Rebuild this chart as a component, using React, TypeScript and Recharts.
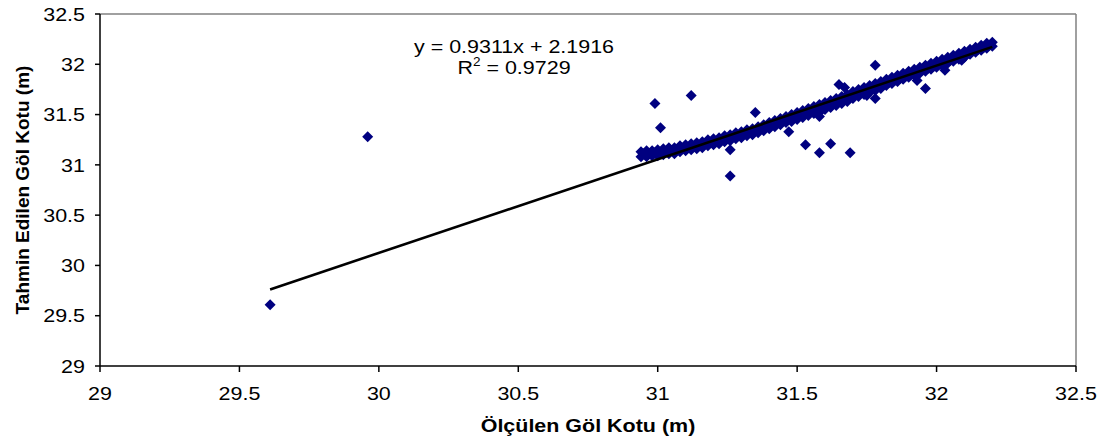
import React from "react";
import { ScatterChart, Scatter, XAxis, YAxis, ReferenceLine } from "recharts";

// measured vs predicted lake level (m)
const AXIS_TICKS = [29, 29.5, 30, 30.5, 31, 31.5, 32, 32.5];

// main band, upper edge of the cloud
const bandUpper: [number, number][] = [
  [30.94, 31.13], [30.96, 31.14], [30.98, 31.14], [31.0, 31.15], [31.02, 31.16],
  [31.04, 31.17], [31.06, 31.17], [31.08, 31.19], [31.1, 31.2], [31.12, 31.21],
  [31.14, 31.22], [31.16, 31.23], [31.18, 31.25], [31.2, 31.26], [31.22, 31.27],
  [31.24, 31.29], [31.26, 31.3], [31.28, 31.32], [31.3, 31.33], [31.32, 31.35],
  [31.34, 31.36], [31.36, 31.38], [31.38, 31.4], [31.4, 31.42], [31.42, 31.44],
  [31.44, 31.46], [31.46, 31.48], [31.48, 31.5], [31.5, 31.52], [31.52, 31.54],
  [31.54, 31.56], [31.56, 31.58], [31.58, 31.6], [31.6, 31.62], [31.62, 31.64],
  [31.64, 31.66], [31.66, 31.68], [31.68, 31.7], [31.7, 31.73], [31.72, 31.75],
  [31.74, 31.77], [31.76, 31.79], [31.78, 31.81], [31.8, 31.83], [31.82, 31.85],
  [31.84, 31.87], [31.86, 31.89], [31.88, 31.91], [31.9, 31.93], [31.92, 31.95],
  [31.94, 31.97], [31.96, 31.99], [31.98, 32.01], [32.0, 32.03], [32.02, 32.05],
  [32.04, 32.07], [32.06, 32.09], [32.08, 32.11], [32.1, 32.13], [32.12, 32.15],
  [32.14, 32.17], [32.16, 32.19], [32.18, 32.21], [32.2, 32.22],
];

// main band, middle of the cloud
const bandMiddle: [number, number][] = [
  [30.95, 31.11], [30.97, 31.11], [30.99, 31.12], [31.01, 31.12], [31.03, 31.13],
  [31.05, 31.14], [31.07, 31.15], [31.09, 31.16], [31.11, 31.17], [31.13, 31.18],
  [31.15, 31.19], [31.17, 31.21], [31.19, 31.22], [31.21, 31.23], [31.23, 31.25],
  [31.25, 31.26], [31.27, 31.28], [31.29, 31.29], [31.31, 31.31], [31.33, 31.32],
  [31.35, 31.34], [31.37, 31.36], [31.39, 31.38], [31.41, 31.4], [31.43, 31.42],
  [31.45, 31.44], [31.47, 31.46], [31.49, 31.47], [31.51, 31.49], [31.53, 31.51],
  [31.55, 31.53], [31.57, 31.55], [31.59, 31.57], [31.61, 31.59], [31.63, 31.61],
  [31.65, 31.63], [31.67, 31.65], [31.69, 31.67], [31.71, 31.7], [31.73, 31.72],
  [31.75, 31.74], [31.77, 31.76], [31.79, 31.78], [31.81, 31.8], [31.83, 31.82],
  [31.85, 31.84], [31.87, 31.86], [31.89, 31.88], [31.91, 31.9], [31.93, 31.92],
  [31.95, 31.94], [31.97, 31.96], [31.99, 31.98], [32.01, 32.0], [32.03, 32.02],
  [32.05, 32.04], [32.07, 32.06], [32.09, 32.08], [32.11, 32.1], [32.13, 32.13],
  [32.15, 32.15], [32.17, 32.17], [32.19, 32.19],
];

// main band, lower edge of the cloud
const bandLower: [number, number][] = [
  [30.94, 31.08], [30.96, 31.08], [30.98, 31.09], [31.0, 31.09], [31.02, 31.1],
  [31.04, 31.11], [31.06, 31.11], [31.08, 31.13], [31.1, 31.14], [31.12, 31.15],
  [31.14, 31.16], [31.16, 31.17], [31.18, 31.19], [31.2, 31.2], [31.22, 31.21],
  [31.24, 31.23], [31.26, 31.24], [31.28, 31.26], [31.3, 31.27], [31.32, 31.29],
  [31.34, 31.3], [31.36, 31.32], [31.38, 31.34], [31.4, 31.36], [31.42, 31.38],
  [31.44, 31.4], [31.46, 31.42], [31.48, 31.43], [31.5, 31.45], [31.52, 31.47],
  [31.54, 31.49], [31.56, 31.51], [31.58, 31.52], [31.6, 31.55], [31.62, 31.57],
  [31.64, 31.59], [31.66, 31.61], [31.68, 31.63], [31.7, 31.66], [31.72, 31.68],
  [31.74, 31.7], [31.76, 31.72], [31.78, 31.74], [31.8, 31.76], [31.82, 31.79],
  [31.84, 31.81], [31.86, 31.83], [31.88, 31.85], [31.9, 31.87], [31.92, 31.89],
  [31.94, 31.91], [31.96, 31.93], [31.98, 31.95], [32.0, 31.97], [32.02, 31.99],
  [32.04, 32.01], [32.06, 32.03], [32.08, 32.05], [32.1, 32.07], [32.12, 32.1],
  [32.14, 32.12], [32.16, 32.14], [32.18, 32.16], [32.2, 32.18],
];

// scattered points away from the band
const outliers: [number, number][] = [
  [29.61, 29.61], [29.96, 31.28], [30.99, 31.61], [31.12, 31.69], [31.01, 31.37],
  [31.35, 31.52], [31.26, 31.15], [31.26, 30.89], [31.47, 31.33], [31.53, 31.2],
  [31.58, 31.12], [31.62, 31.21], [31.69, 31.12], [31.58, 31.48], [31.65, 31.8],
  [31.67, 31.77], [31.75, 31.69], [31.78, 31.66], [31.78, 31.99], [31.93, 31.84],
  [31.96, 31.76], [32.03, 31.94], [32.09, 32.04],
];

// linear fit
const SLOPE = 0.9311;
const INTERCEPT = 2.1916;
const R2 = 0.9729;

const points = [...bandUpper, ...bandMiddle, ...bandLower, ...outliers].map(
  ([x, y]) => ({ x, y })
);
const xs = points.map((p) => p.x);
const xMin = Math.min(...xs);
const xMax = Math.max(...xs);
const fitLine = [
  { x: xMin, y: SLOPE * xMin + INTERCEPT },
  { x: xMax, y: SLOPE * xMax + INTERCEPT },
];

const FONT = "'Liberation Sans', Arial, sans-serif";
const NAVY = "#000080";
// horizontal text is a little wide in this layout
const STRETCH = 1.13;

const Diamond = (props: any) => {
  const { cx, cy } = props;
  if (cx == null || cy == null) return <g />;
  const r = 5.5;
  return (
    <path
      d={`M${cx},${cy - r}L${cx + r},${cy}L${cx},${cy + r}L${cx - r},${cy}Z`}
      fill={NAVY}
    />
  );
};

const NoDot = () => <g />;

const WideText = ({ x, y, anchor = "middle", size = 19, bold = false, children }: any) => (
  <text
    transform={`translate(${x},${y}) scale(${STRETCH},1)`}
    textAnchor={anchor}
    fontSize={size}
    fontWeight={bold ? "bold" : "normal"}
    fontFamily={FONT}
    fill="#000"
  >
    {children}
  </text>
);

const XTick = (props: any) => {
  const { x, y, payload } = props;
  return (
    <WideText x={x} y={y + 13.5} anchor="middle">
      {payload.value}
    </WideText>
  );
};

const YTick = (props: any) => {
  const { x, y, payload } = props;
  return (
    <WideText x={x} y={y + 6.7} anchor="end">
      {payload.value}
    </WideText>
  );
};

export default function App() {
  return (
    <div style={{ position: "absolute", left: 0, top: 0, background: "#fff" }}>
      <ScatterChart
        width={1105}
        height={445}
        margin={{ top: 14, right: 29, bottom: 19, left: 0 }}
        style={{ fontFamily: FONT }}
      >
        <XAxis
          type="number"
          dataKey="x"
          domain={[29, 32.5]}
          ticks={AXIS_TICKS}
          height={60}
          stroke="#000"
          strokeWidth={1.5}
          tickSize={6}
          tickMargin={14}
          tick={XTick}
          allowDataOverflow
        />
        <YAxis
          type="number"
          dataKey="y"
          domain={[29, 32.5]}
          ticks={AXIS_TICKS}
          width={100}
          stroke="#000"
          strokeWidth={1.5}
          tickSize={5}
          tickMargin={10}
          tick={YTick}
          allowDataOverflow
        />
        <ReferenceLine y={32.5} stroke="#808080" strokeWidth={1.5} />
        <ReferenceLine x={32.5} stroke="#808080" strokeWidth={1.5} />
        <Scatter data={points} shape={Diamond} isAnimationActive={false} />
        <Scatter
          data={fitLine}
          line={{ stroke: "#000", strokeWidth: 2.6 }}
          shape={NoDot}
          isAnimationActive={false}
        />
        <WideText x={514} y={53}>
          {`y = ${SLOPE}x + ${INTERCEPT}`}
        </WideText>
        <WideText x={514} y={74}>
          R<tspan fontSize={12} dy={-8}>2</tspan>
          <tspan dy={8}>{` = ${R2}`}</tspan>
        </WideText>
        <WideText x={588} y={432} bold>
          Ölçülen Göl Kotu (m)
        </WideText>
        <text
          x={29}
          y={190}
          textAnchor="middle"
          fontSize={19}
          fontWeight="bold"
          fontFamily={FONT}
          fill="#000"
          transform="rotate(-90 29 190)"
        >
          Tahmin Edilen Göl Kotu (m)
        </text>
      </ScatterChart>
    </div>
  );
}
